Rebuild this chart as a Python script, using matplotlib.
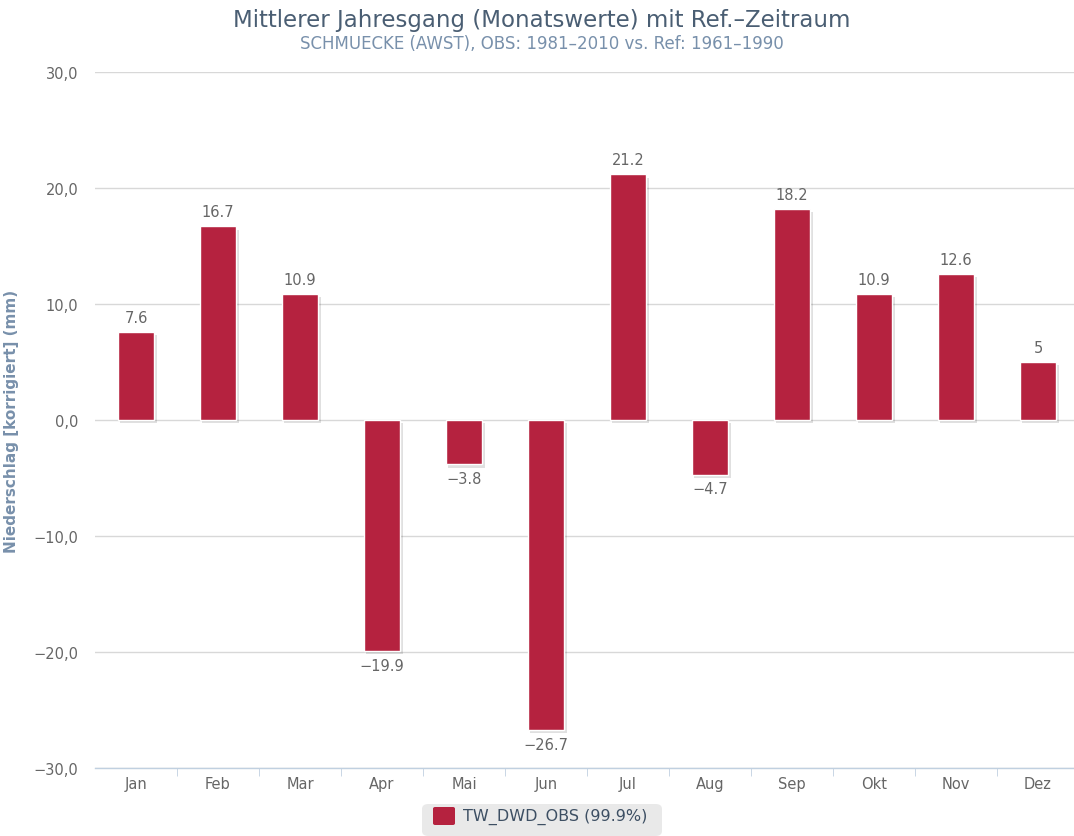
import numpy as np
import matplotlib.pyplot as plt
from matplotlib.patches import FancyBboxPatch, Rectangle

monate = ['Jan', 'Feb', 'Mar', 'Apr', 'Mai', 'Jun', 'Jul', 'Aug', 'Sep', 'Okt', 'Nov', 'Dez']
werte = [7.6, 16.7, 10.9, -19.9, -3.8, -26.7, 21.2, -4.7, 18.2, 10.9, 12.6, 5.0]
yticks = [-30, -20, -10, 0, 10, 20, 30]

plt.rcParams['font.family'] = ['DejaVu Sans']

W, H = 1074, 837
fig = plt.figure(figsize=(W / 100, H / 100), dpi=100)
ax = fig.add_axes([95 / W, (H - 769) / H, 984 / W, (769 - 73) / H])

x = np.arange(len(monate))
farbe = '#b5223f'
bw = 0.45

# shadow
for xi, v in zip(x, werte):
    ax.add_patch(Rectangle((xi - bw / 2 + 0.03, min(0, v) - 0.3), bw, abs(v),
                           facecolor='#000000', alpha=0.12, lw=0, zorder=2))
ax.bar(x, werte, width=bw, color=farbe, edgecolor='white', linewidth=1, zorder=3)

for xi, v in zip(x, werte):
    s = ('%g' % v).replace('-', '\u2212')
    if v >= 0:
        ax.text(xi, v + 0.6, s, ha='center', va='bottom', fontsize=10.5, color='#666666')
    else:
        ax.text(xi, v - 0.6, s, ha='center', va='top', fontsize=10.5, color='#666666')

ax.set_xlim(-0.5, 11.5)
ax.set_ylim(-30, 30)
ax.set_yticks(yticks)
ax.set_yticklabels([('%.1f' % t).replace('.', ',').replace('-', '\u2212') for t in yticks],
                   fontsize=10.5, color='#666666')
ax.set_xticks(x)
ax.set_xticklabels(monate, fontsize=10.5, color='#666666')
ax.set_xticks(np.arange(0.5, 11.5, 1), minor=True)
ax.tick_params(axis='x', which='major', length=0, pad=6)
ax.tick_params(axis='x', which='minor', length=6, color='#c0d0e0', direction='out')
ax.tick_params(axis='y', length=0, pad=12)
ax.grid(axis='y', color='#d8d8d8', linewidth=1, zorder=0)
for sp in ['top', 'right', 'left']:
    ax.spines[sp].set_visible(False)
ax.spines['bottom'].set_color('#c0d0e0')
ax.spines['bottom'].set_linewidth(1)
ax.set_axisbelow(True)

ax.set_ylabel('Niederschlag [korrigiert] (mm)', fontsize=11, color='#7890ab',
              fontweight='bold', labelpad=10)

fig.text(542 / W, 1 - 20 / H, 'Mittlerer Jahresgang (Monatswerte) mit Ref.\u2013Zeitraum',
         ha='center', va='center', fontsize=16.5, color='#4a5e73')
fig.text(542 / W, 1 - 44 / H, 'SCHMUECKE (AWST), OBS: 1981\u20132010 vs. Ref: 1961\u20131990',
         ha='center', va='center', fontsize=12, color='#7890ab')

# legend
fig.patches.append(FancyBboxPatch((422 / W, 0), 240 / W, 32 / H,
                                  boxstyle='round,pad=0,rounding_size=0.006',
                                  transform=fig.transFigure, facecolor='#e9e9e9',
                                  edgecolor='none'))
fig.patches.append(FancyBboxPatch((433 / W, 11 / H), 22 / W, 18 / H,
                                  boxstyle='round,pad=0,rounding_size=0.002',
                                  transform=fig.transFigure, facecolor=farbe,
                                  edgecolor='none'))
fig.text(463 / W, 20 / H, 'TW_DWD_OBS (99.9%)', ha='left', va='center',
         fontsize=11.5, color='#3d4f63')

fig.savefig('out.png', dpi=100)
